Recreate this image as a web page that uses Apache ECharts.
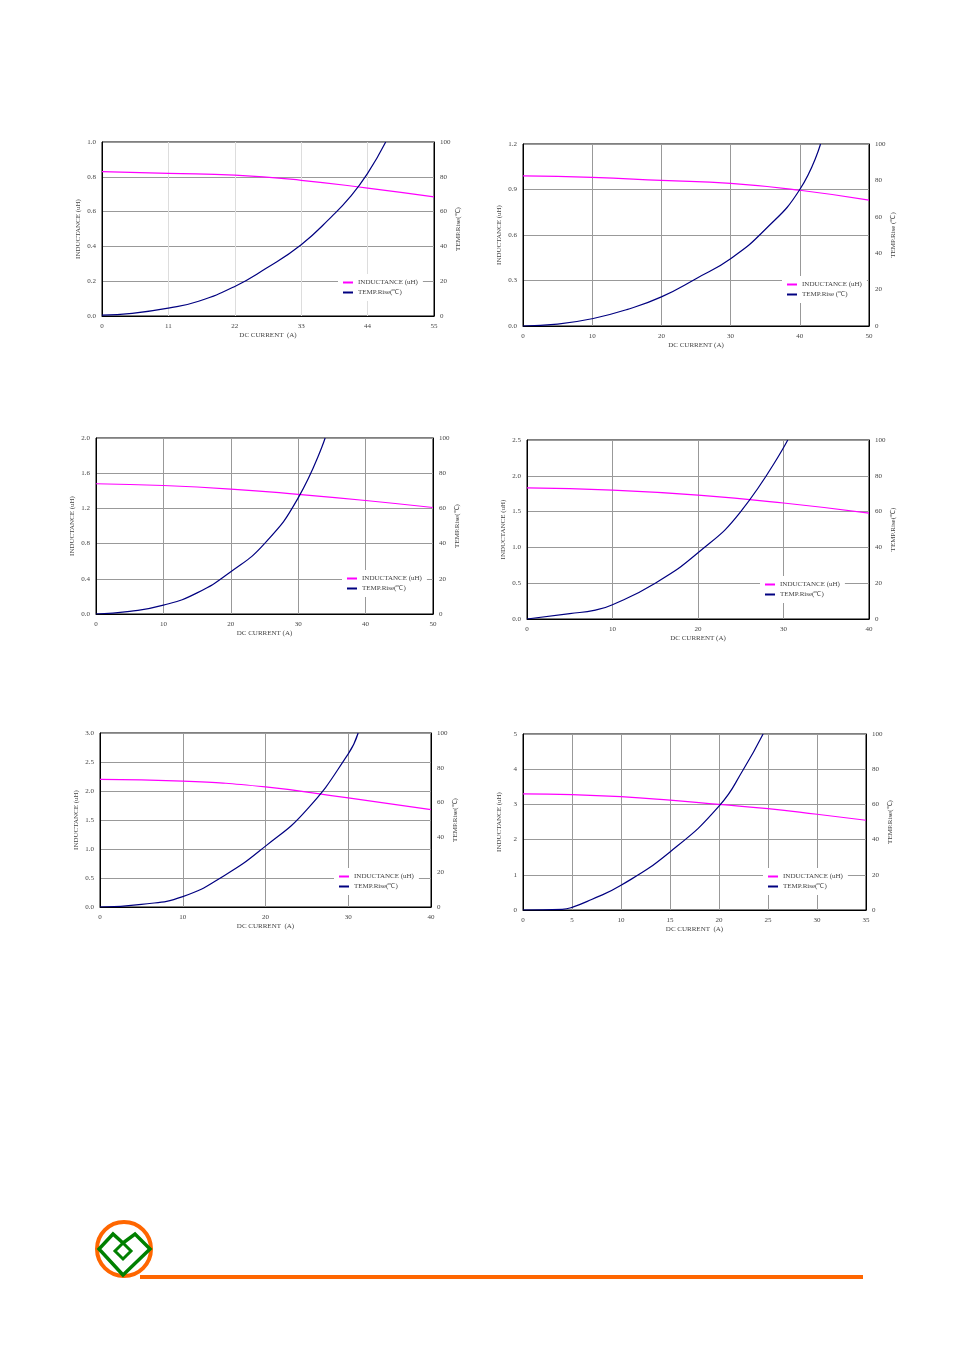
<!DOCTYPE html>
<html><head><meta charset="utf-8">
<script src="https://cdn.jsdelivr.net/npm/echarts@6/dist/echarts.min.js"></script>
<style>html,body{margin:0;background:#fff}#c{width:954px;height:1350px}</style>
</head><body><div id="c"></div>
<script>
// [current A, inductance uH] and [current A, temp rise C] per chart
var ind1 = [[0,0.83],[11,0.82],[22,0.81],[33,0.78],[44,0.735],[55,0.685]];
var temp1 = [[0,0.5],[5,1.5],[11,4.5],[16,8.5],[22,17],[27,27],[33,41],[38,57],[41,68],[44,82],[47,100]];
var ind2 = [[0,0.99],[10,0.98],[20,0.96],[30,0.94],[40,0.895],[50,0.83]];
var temp2 = [[0,0],[5,1],[10,4],[15,9],[20,16],[25,26],[30,37],[35,53],[40,75],[43,100]];
var ind3 = [[0,1.48],[10,1.46],[20,1.42],[30,1.36],[40,1.29],[50,1.21]];
var temp3 = [[0,0],[5,1.5],[10,5],[15,12],[20,24],[25,40],[30,66],[34,100]];
var ind4 = [[0,1.83],[10,1.8],[20,1.73],[30,1.62],[40,1.48]];
var temp4 = [[0,0],[5,3],[8,5],[10,8],[15,20],[20,37],[25,60],[30.5,100]];
var ind5 = [[0,2.2],[10,2.17],[20,2.07],[30,1.88],[40,1.68]];
var temp5 = [[0,0],[5,1.5],[10,6],[15,18],[20,35],[25,56],[30,88],[31.2,100]];
var ind6 = [[0,3.3],[5,3.28],[10,3.22],[15,3.12],[20,3.0],[25,2.88],[30,2.72],[35,2.55]];
var temp6 = [[0,0],[4,0.4],[5,1.5],[7,6],[10,14],[15,33],[20,59],[22.5,80],[24.5,100]];

var charts = [
  {box:[102,142,434,316], xMax:55, xStep:11, yMax:1.0, yStep:0.2, dec:1, ind:ind1, temp:temp1, yName:'INDUCTANCE (uH)', rName:'TEMP.Rise(℃)', xName:'DC CURRENT  (A)', leg:[338,274]},
  {box:[523,144,869,326], xMax:50, xStep:10, yMax:1.2, yStep:0.3, dec:1, ind:ind2, temp:temp2, yName:'INDUCTANCE (uH)', rName:'TEMP.Rise (℃)', xName:'DC CURRENT (A)', leg:[782,276]},
  {box:[96,438,433,614], xMax:50, xStep:10, yMax:2.0, yStep:0.4, dec:1, ind:ind3, temp:temp3, yName:'INDUCTANCE (uH)', rName:'TEMP.Rise(℃)', xName:'DC CURRENT (A)', leg:[342,570]},
  {box:[527,440,869,619], xMax:40, xStep:10, yMax:2.5, yStep:0.5, dec:1, ind:ind4, temp:temp4, yName:'INDUCTANCE (uH)', rName:'TEMP.Rise(℃)', xName:'DC CURRENT (A)', leg:[760,576]},
  {box:[100,733,431,907], xMax:40, xStep:10, yMax:3.0, yStep:0.5, dec:1, ind:ind5, temp:temp5, yName:'INDUCTANCE (uH)', rName:'TEMP.Rise(℃)', xName:'DC CURRENT  (A)', leg:[334,868]},
  {box:[523,734,866,910], xMax:35, xStep:5, yMax:5, yStep:1, dec:0, ind:ind6, temp:temp6, yName:'INDUCTANCE (uH)', rName:'TEMP.Rise(℃)', xName:'DC CURRENT  (A)', leg:[763,868]}
];

var font = {fontFamily:'Liberation Serif', fontSize:7, color:'#444'};
var grid = [], xAxis = [], yAxis = [], series = [], legend = [];
charts.forEach(function (c, i) {
  var b = c.box;
  grid.push({left:b[0], top:b[1], width:b[2]-b[0], height:b[3]-b[1], show:true, borderColor:'#000', borderWidth:1});
  xAxis.push({type:'value', gridIndex:i, min:0, max:c.xMax, interval:c.xStep,
    name:c.xName, nameLocation:'middle', nameGap:16, nameTextStyle:font,
    axisLine:{lineStyle:{color:'#000'}}, axisTick:{show:false}, axisLabel:Object.assign({margin:7}, font),
    splitLine:{lineStyle:{color: i === 0 ? '#ddd' : '#999'}}});
  yAxis.push({type:'value', gridIndex:i, min:0, max:c.yMax, interval:c.yStep,
    name:c.yName, nameLocation:'middle', nameGap:20, nameTextStyle:font,
    axisLine:{show:true, lineStyle:{color:'#000'}}, axisTick:{show:false},
    axisLabel:Object.assign({margin:6, formatter:function (v) { return v.toFixed(c.dec); }}, font),
    splitLine:{lineStyle:{color:'#999'}}});
  yAxis.push({type:'value', gridIndex:i, position:'right', min:0, max:100, interval:20,
    name:c.rName, nameLocation:'middle', nameGap:20, nameRotate:90, nameTextStyle:font,
    axisLine:{show:true, lineStyle:{color:'#000'}}, axisTick:{show:false},
    axisLabel:Object.assign({margin:6}, font), splitLine:{show:false}});
  series.push({name:'INDUCTANCE (uH)', type:'line', xAxisIndex:i, yAxisIndex:2*i, data:c.ind,
    smooth:true, symbol:'none', lineStyle:{color:'#ff00ff', width:1.2}, itemStyle:{color:'#ff00ff'}});
  series.push({name:c.rName, type:'line', xAxisIndex:i, yAxisIndex:2*i+1, data:c.temp,
    smooth:true, symbol:'none', lineStyle:{color:'#000080', width:1.2}, itemStyle:{color:'#000080'}});
  legend.push({left:c.leg[0], top:c.leg[1], orient:'vertical', itemWidth:10, itemHeight:2, itemGap:3,
    backgroundColor:'#fff', data:['INDUCTANCE (uH)', c.rName], textStyle:font, icon:'rect', selectedMode:false});
});

var chart = echarts.init(document.getElementById('c'));
chart.setOption({
  animation:false,
  grid:grid, xAxis:xAxis, yAxis:yAxis, series:series, legend:legend,
  graphic:[
    {type:'line', shape:{x1:140, y1:1277, x2:863, y2:1277}, style:{stroke:'#ff6600', lineWidth:4}},
    {type:'circle', shape:{cx:124, cy:1249, r:27}, style:{fill:'none', stroke:'#ff6600', lineWidth:4}},
    {type:'polygon', shape:{points:[[123,1275],[99,1249],[113,1234],[123,1243],[135,1234],[150,1249]]}, style:{fill:'none', stroke:'#008000', lineWidth:3.5}},
    {type:'polygon', shape:{points:[[123,1243],[131,1251],[123,1259],[115,1251]]}, style:{fill:'none', stroke:'#008000', lineWidth:3}}
  ]
});
</script></body></html>
